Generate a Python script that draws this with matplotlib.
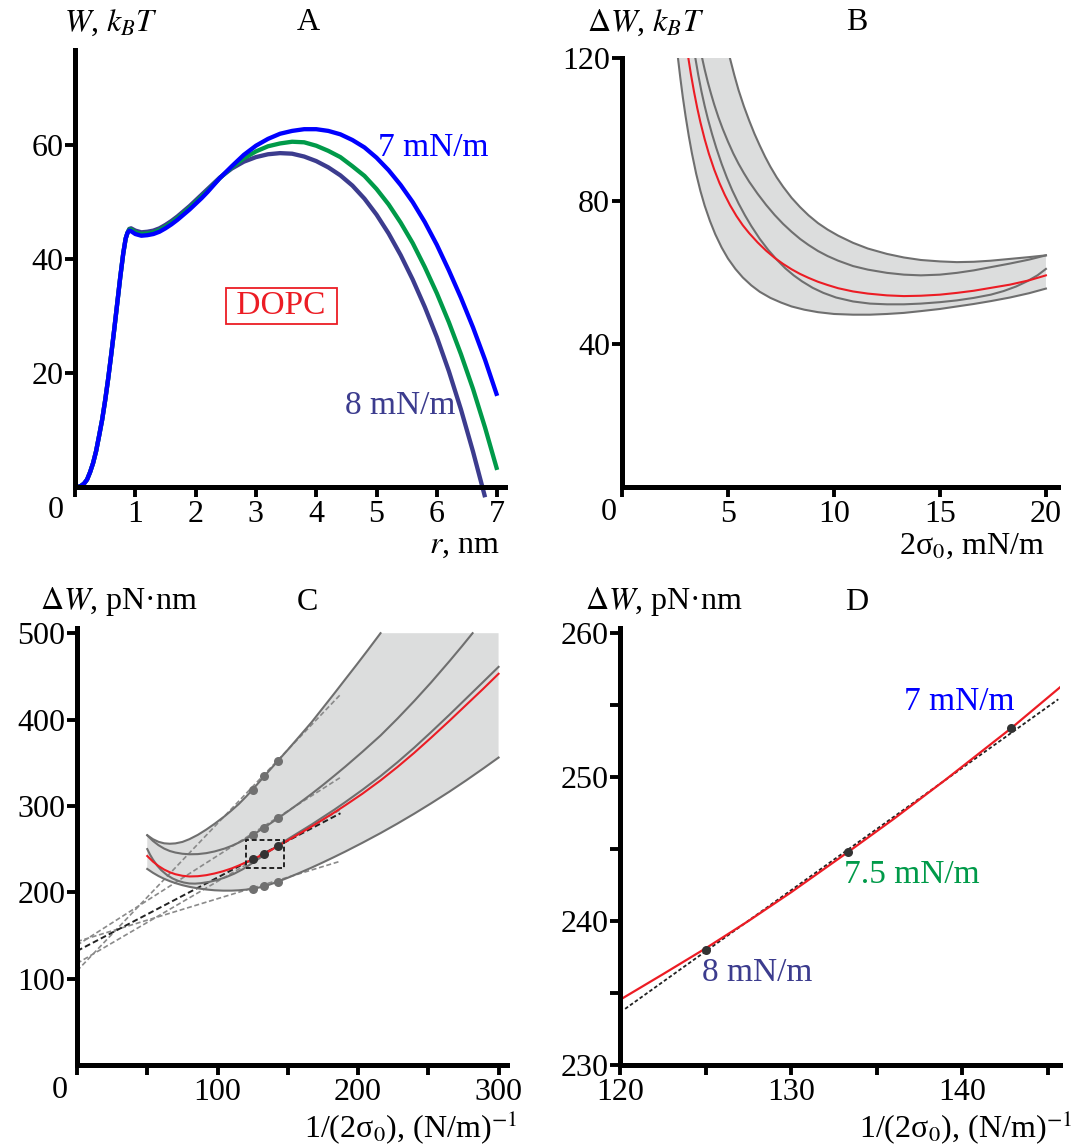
import numpy as np
import matplotlib.pyplot as plt

plt.rcParams['font.family'] = ['Liberation Serif', 'DejaVu Serif']
plt.rcParams['mathtext.fontset'] = 'stix'
plt.rcParams['font.size'] = 23

W, H = 1079, 1147

# ---------------- panel A : W(r) for three tensions ----------------
a_rise_r = [0.05, 0.1, 0.15, 0.2, 0.25, 0.3, 0.35, 0.4, 0.45, 0.5, 0.55, 0.6, 0.65, 0.7,
            0.75, 0.8, 0.84, 0.87]
a_rise_w = [0, 0.2, 0.6, 1.3, 2.6, 4.2, 6.3, 9.0, 11.8, 15.2, 19.0, 23.2, 27.6, 32.2,
            36.8, 41.0, 43.6, 44.6]

a_r7 = a_rise_r + [0.9, 0.93, 1.0, 1.1, 1.2, 1.3, 1.4, 1.5, 1.6, 1.7, 1.8, 1.9, 2.0, 2.1, 2.2,
                   2.3, 2.4, 2.6, 2.8, 3.0, 3.2, 3.4, 3.6, 3.8, 4.0, 4.2, 4.4, 4.6, 4.8, 5.0,
                   5.2, 5.4, 5.6, 5.8, 6.0, 6.2, 6.4, 6.6, 6.8, 7.0]
a_w7 = a_rise_w + [45.0, 44.9, 44.4, 44.1, 44.2, 44.4, 44.8, 45.4, 46.1, 46.9, 47.8, 48.7, 49.7,
                   50.7, 51.8, 53.0, 54.2, 56.3, 58.3, 59.9, 61.1, 62.0, 62.5, 62.8, 62.8, 62.5,
                   61.9, 60.9, 59.6, 57.8, 55.6, 53.0, 50.0, 46.5, 42.5, 38.0, 33.2, 28.0,
                   22.3, 16.0]

a_r75 = a_rise_r + [0.9, 0.93, 1.0, 1.1, 1.2, 1.3, 1.4, 1.5, 1.6, 1.7, 1.8, 1.9, 2.0, 2.1, 2.2,
                    2.3, 2.4, 2.6, 2.8, 3.0, 3.2, 3.4, 3.6, 3.8, 4.0, 4.2, 4.4, 4.6, 4.8, 5.0,
                    5.2, 5.4, 5.6, 5.8, 6.0, 6.2, 6.4, 6.6, 6.8, 7.0]
a_w75 = a_rise_w + [45.2, 45.2, 44.7, 44.4, 44.5, 44.7, 45.1, 45.7, 46.4, 47.2, 48.1, 49.0,
                    50.0, 51.0, 52.0, 53.1, 54.2, 56.1, 57.7, 58.9, 59.8, 60.3, 60.6, 60.5,
                    59.9, 59.0, 57.9, 56.3, 54.6, 52.3, 49.6, 46.4, 42.8, 38.6, 34.0, 28.9,
                    23.3, 17.2, 10.4, 3.0]

a_r8 = a_rise_r + [0.9, 0.93, 1.0, 1.1, 1.2, 1.3, 1.4, 1.5, 1.6, 1.7, 1.8, 1.9, 2.0, 2.1, 2.2,
                   2.3, 2.4, 2.6, 2.8, 3.0, 3.2, 3.4, 3.6, 3.8, 4.0, 4.2, 4.4, 4.6, 4.8, 5.0,
                   5.2, 5.4, 5.6, 5.8, 6.0, 6.2, 6.4, 6.6, 6.8]
a_w8 = a_rise_w + [45.3, 45.4, 45.0, 44.7, 44.8, 45.0, 45.4, 46.0, 46.7, 47.5, 48.4, 49.3,
                   50.3, 51.3, 52.3, 53.3, 54.3, 55.9, 57.1, 57.9, 58.4, 58.6, 58.5, 58.0,
                   57.2, 56.1, 54.7, 52.9, 50.6, 47.8, 44.5, 40.7, 36.4, 31.6, 26.3, 20.3,
                   13.6, 6.2, -1.8]

# ---------------- panel B : dW vs 2*sigma0 (kBT) ----------------
b_up_x = [5.09, 5.3, 5.5, 5.75, 6.0, 6.25, 6.5, 6.75, 7.0, 7.3, 7.6, 8.0, 8.4, 8.8, 9.25, 9.7,
          10.2, 10.9, 11.6, 12.5, 13.3, 14.1, 15.0, 15.8, 16.6, 17.4, 18.3, 19.2, 20.0]
b_up_y = [120, 115.2, 111.0, 106.5, 102.5, 98.8, 95.5, 92.4, 89.6, 86.6, 84.0, 80.9, 78.3,
          76.0, 73.8, 72.0, 70.3, 68.3, 66.7, 65.2, 64.2, 63.5, 63.1, 62.9, 63.0, 63.3, 63.8,
          64.3, 64.8]
b_g2_x = [3.78, 3.9, 4.05, 4.2, 4.35, 4.55, 4.75, 5.0, 5.25, 5.5, 5.75, 6.0, 6.4, 6.8, 7.2, 7.6,
          8.0, 8.4, 8.8, 9.25, 9.7, 10.2, 10.9, 11.6, 12.5, 13.3, 14.1, 15.0, 15.8, 16.6, 17.4,
          18.3, 19.2, 20.0]
b_g2_y = [120, 116.8, 113.2, 110.0, 107.0, 103.4, 100.2, 96.6, 93.3, 90.4, 87.8, 85.4, 82.0,
          78.9, 76.1, 73.6, 71.4, 69.4, 67.7, 66.0, 64.6, 63.3, 61.8, 60.8, 59.9, 59.4, 59.2,
          59.4, 59.9, 60.6, 61.5, 62.5, 63.6, 64.8]
b_red_x = [3.13, 3.25, 3.4, 3.55, 3.7, 3.9, 4.1, 4.35, 4.6, 4.85, 5.1, 5.4, 5.7, 6.0, 6.4, 6.8,
           7.2, 7.6, 8.0, 8.4, 8.8, 9.25, 9.7, 10.2, 10.9, 11.6, 12.5, 13.3, 14.1, 15.0, 15.8,
           16.6, 17.4, 18.3, 19.2, 20.0]
b_red_y = [120, 115.5, 110.5, 106.0, 102.0, 97.3, 93.2, 88.8, 85.0, 81.7, 78.8, 75.8, 73.2,
           71.0, 68.4, 66.1, 64.1, 62.4, 60.9, 59.6, 58.5, 57.4, 56.5, 55.6, 54.7, 54.1, 53.6,
           53.4, 53.5, 53.8, 54.3, 54.9, 55.7, 56.6, 57.8, 59.2]
b_g3_x = [3.46, 3.6, 3.75, 3.9, 4.05, 4.25, 4.45, 4.7, 4.95, 5.2, 5.5, 5.8, 6.1, 6.5, 6.9, 7.3,
          7.7, 8.1, 8.5, 9.0, 9.5, 10.1, 10.9, 11.7, 12.5, 13.3, 14.1, 15.0, 15.8, 16.6, 17.4,
          18.0, 18.6, 19.1, 19.6, 20.0]
b_g3_y = [120, 115.2, 110.6, 106.6, 103.0, 98.7, 94.8, 90.4, 86.5, 83.0, 79.3, 76.0, 73.0,
          69.4, 66.3, 63.6, 61.2, 59.2, 57.5, 55.7, 54.3, 53.0, 51.9, 51.3, 51.1, 51.1, 51.3,
          51.7, 52.2, 52.9, 53.8, 54.8, 56.1, 57.5, 59.2, 61.0]
b_lo_x = [2.64, 2.75, 2.87, 3.0, 3.15, 3.3, 3.5, 3.7, 3.9, 4.15, 4.4, 4.7, 5.0, 5.35, 5.7, 6.1,
          6.5, 7.0, 7.5, 8.0, 8.6, 9.25, 10.0, 10.9, 11.7, 12.5, 13.3, 14.1, 15.0, 15.8, 16.6,
          17.4, 18.3, 19.2, 20.0]
b_lo_y = [120, 114.5, 109.0, 103.7, 98.2, 93.3, 87.6, 82.8, 78.7, 74.4, 70.7, 67.0, 63.9,
          61.0, 58.6, 56.4, 54.6, 52.9, 51.6, 50.5, 49.6, 48.9, 48.4, 48.2, 48.2, 48.4, 48.7,
          49.2, 49.8, 50.5, 51.2, 52.0, 53.0, 54.2, 55.5]

# ---------------- panel C : dW vs 1/(2 sigma0) (pN nm) ----------------
c_top_x = [50, 54, 58, 62, 66, 70, 75, 80, 86, 92, 98, 105, 110, 115, 120, 125, 133.33,
           142.86, 150, 158, 167, 175, 183, 191, 199, 207, 216]
c_top_y = [266, 261.5, 258.4, 256.7, 256.2, 256.6, 258.3, 261.5, 266.5, 272.6, 279.4, 288.0,
           294.8, 302.0, 310.2, 319.0, 334.5, 352, 365, 380, 397, 413.5, 430, 446.8, 463.5,
           480.5, 500]
c_g2_x = [50, 54, 58, 62, 66, 70, 75, 80, 86, 92, 98, 105, 110, 115, 120, 125, 133.33, 142.86,
          150, 158, 167, 175, 183, 191, 203, 216, 228, 240, 252, 265, 274, 281.5]
c_g2_y = [266, 259.5, 254.5, 250.6, 247.8, 246.0, 244.6, 244.0, 244.2, 245.3, 247.3, 250.6,
          253.7, 257.4, 261.6, 266.3, 275.0, 285.5, 293.6, 303.0, 314.0, 324.2, 334.8, 345.6,
          362.5, 381.5, 401, 421.5, 443, 467.5, 485, 500]
c_red_x = [50, 54, 58, 62, 66, 70, 75, 80, 86, 92, 98, 104, 110, 115, 120, 125, 129, 133.33,
           138, 142.86, 150, 158, 167, 175, 183, 191, 203, 216, 228, 240, 252, 265, 277, 289, 300]
c_red_y = [242, 235.6, 230.4, 226.3, 223.2, 220.9, 219.1, 218.3, 218.6, 219.8, 221.8, 224.4,
           227.6, 230.9, 234.5, 238.0, 241.2, 244.8, 248.8, 253.4, 260.0, 267.6, 276.2, 284.2,
           292.3, 300.8, 314.0, 329.5, 345.0, 361.5, 379.0, 398.5, 417.0, 435.5, 453]
c_g3_x = [50, 52, 54, 57, 60, 64, 68, 72, 76, 80, 84, 88, 94, 100, 106, 112, 118, 125, 133.33,
          142.86, 150, 158, 167, 175, 183, 191, 203, 216, 228, 240, 252, 265, 277, 289, 300]
c_g3_y = [250, 243.5, 238, 231, 225.5, 220, 216, 213.2, 211.3, 210.2, 210.0, 210.5, 212.0,
          214.3, 217.5, 221.6, 226.7, 234.0, 243.4, 254.2, 261.5, 269.5, 278.5, 287, 295.5,
          304.5, 318.5, 334.5, 350.5, 367.5, 385.5, 405.5, 424.5, 443.5, 461]
c_lo_x = [50, 54, 58, 62, 66, 70, 75, 80, 86, 92, 98, 104, 110, 115, 120, 125, 133.33, 142.86,
          150, 158, 167, 175, 183, 191, 203, 216, 228, 240, 252, 265, 277, 289, 300]
c_lo_y = [227, 222.6, 218.8, 215.6, 212.9, 210.6, 208.2, 206.3, 204.5, 203.2, 202.3, 201.9,
          201.9, 202.3, 203.0, 204.0, 206.8, 212.2, 216.8, 222.2, 228.6, 234.6, 240.8, 247.2,
          257.2, 268.5, 279.5, 291.0, 303.0, 316.5, 329.6, 343.2, 356]

dot_x = [125, 133.33, 142.86]
dot_top = [319, 334.5, 352]
dot_g2 = [266.3, 275, 285.5]
dot_lo = [204, 206.8, 212.2]
dot_red = [238.0, 244.8, 253.4]

# tangent (linear fit) lines drawn from x = 0 to 187.5
tan_x = [0, 187.5]
tan_gray = [[109, 429], [117.6, 295.7], [138.7, 333], [142.9, 236]]
tan_red = [132.0, 291.5]

# ---------------- panel D : zoom ----------------
d_red_x = [120.1, 122.5, 125, 127.5, 130, 133.33, 136, 139, 142.86, 145.77]
d_red_y = [234.6, 236.3, 238.1, 240.0, 242.0, 244.8, 247.1, 249.8, 253.4, 256.3]
d_fit_x = [120.3, 145.6]
d_fit_y = [233.9, 255.4]

BLUE = '#0000ff'
GREEN = '#009a49'
PURPLE = '#3c3c8e'
RED = '#ec1c24'
GRAYL = '#6f6f6f'
FILL = '#dcdddd'

fig = plt.figure(figsize=(W / 100, H / 100), dpi=100)


def px_axes(x0, y0, x1, y1):
    # pixel box: left, top, right, bottom
    return fig.add_axes([x0 / W, 1 - y1 / H, (x1 - x0) / W, (y1 - y0) / H])


def style(ax):
    for s in ['top', 'right']:
        ax.spines[s].set_visible(False)
    for s in ['left', 'bottom']:
        ax.spines[s].set_linewidth(3.6)
        ax.spines[s].set_capstyle('projecting')
    ax.tick_params(direction='out', length=7, width=2.8, labelsize=23, pad=2.5)
    ax.tick_params(axis='y', pad=1.5)


def ftext(x, y, s, **kw):
    fig.text(x / W, 1 - y / H, s, **kw)


def corner_zero(ax, dx, dy):
    ax.annotate('0', xy=(0, 0), xycoords='axes fraction', xytext=(dx, -dy),
                textcoords='offset pixels', ha='center', va='center', fontsize=23,
                annotation_clip=False)


# ---- A ----
axA = px_axes(75, 50, 505, 487)
axA.plot(a_r8, a_w8, color=PURPLE, lw=3.1, clip_on=False, solid_capstyle='butt')
axA.plot(a_r75, a_w75, color=GREEN, lw=3.1, solid_capstyle='butt')
axA.plot(a_r7, a_w7, color=BLUE, lw=3.1, solid_capstyle='butt')
axA.set_xlim(0, 7.13)
axA.set_ylim(0, 76.7)
axA.set_xticks(range(8))
axA.set_xticklabels([''] + [str(i) for i in range(1, 8)])
axA.set_yticks([20, 40, 60])
style(axA)
corner_zero(axA, -19, 24)
axA.text(5.02, 59.5, '7 mN/m', color=BLUE, fontsize=24, va='center', ha='left')
axA.text(4.48, 14.2, '8 mN/m', color=PURPLE, fontsize=24, va='center', ha='left')
axA.text(3.42, 31.8, ' DOPC ', color=RED, fontsize=24, va='center', ha='center',
         bbox=dict(boxstyle='square,pad=0.08', fc='white', ec=RED, lw=1.3))
ftext(64, 23, r'$W$, $k_BT$', ha='left', va='center', fontsize=23)
ftext(308, 23, 'A', ha='center', va='center', fontsize=23)
ftext(500, 546, r'$r$, nm', ha='right', va='center', fontsize=23)

# ---- B ----
axB = px_axes(622, 58, 1058, 487)
axB.fill(b_lo_x + b_up_x[::-1], b_lo_y + b_up_y[::-1], color=FILL, lw=0)
for xs, ys in [(b_up_x, b_up_y), (b_g2_x, b_g2_y), (b_g3_x, b_g3_y), (b_lo_x, b_lo_y)]:
    axB.plot(xs, ys, color=GRAYL, lw=1.5)
axB.plot(b_red_x, b_red_y, color=RED, lw=1.5)
axB.set_xlim(0, 20.57)
axB.set_ylim(0, 120)
axB.set_xticks([0, 5, 10, 15, 20])
axB.set_xticklabels(['', '5', '10', '15', '20'])
axB.set_yticks([40, 80, 120])
style(axB)
corner_zero(axB, -13, 26)
ftext(587, 23, r'$\Delta W$, $k_BT$', ha='left', va='center', fontsize=23)
ftext(857, 23, 'B', ha='center', va='center', fontsize=23)
ftext(1045, 546, '2σ$_0$, mN/m', ha='right', va='center', fontsize=23)

# ---- C ----
axC = px_axes(77, 628, 507, 1065)
axC.fill(c_lo_x + [300] + c_top_x[::-1], c_lo_y + [500] + c_top_y[::-1], color=FILL, lw=0)
for ys in tan_gray:
    axC.plot(tan_x, ys, color='#8a8a8a', lw=1.2, ls=(0, (3, 1.6)))
axC.plot(tan_x, tan_red, color='#222222', lw=1.4, ls=(0, (3, 1.6)))
for xs, ys in [(c_top_x, c_top_y), (c_g2_x, c_g2_y), (c_g3_x, c_g3_y), (c_lo_x, c_lo_y)]:
    axC.plot(xs, ys, color=GRAYL, lw=1.5)
axC.plot(c_red_x, c_red_y, color=RED, lw=1.5)
for ys in [dot_top, dot_g2, dot_lo]:
    axC.plot(dot_x, ys, 'o', color='#707070', ms=6.5, mec='none')
axC.plot(dot_x, dot_red, 'o', color='#333333', ms=6.5, mec='none')
axC.plot([120, 147.5, 147.5, 120, 120], [228, 228, 261, 261, 228], color='#222222', lw=1.4,
         ls=(0, (2.5, 1.5)))
axC.set_xlim(0, 306)
axC.set_ylim(0, 506)
axC.set_xticks([0, 50, 100, 150, 200, 250, 300])
axC.set_xticklabels(['', '', '100', '', '200', '', '300'])
axC.set_yticks([100, 200, 300, 400, 500])
style(axC)
corner_zero(axC, -17, 25)
ftext(40, 602, r'$\Delta W$, pN·nm', ha='left', va='center', fontsize=23)
ftext(307, 602, 'C', ha='center', va='center', fontsize=23)
ftext(517, 1127, '1/(2σ$_0$), (N/m)$^{-1}$', ha='right', va='center', fontsize=23)

# ---- D ----
axD = px_axes(620, 628, 1060, 1065)
axD.plot(d_fit_x, d_fit_y, color='#222222', lw=1.3, ls=(0, (2, 1.3)))
axD.plot(d_red_x, d_red_y, color=RED, lw=1.6)
axD.plot(dot_x, dot_red, 'o', color='#333333', ms=6.5, mec='none')
axD.set_xlim(120, 145.7)
axD.set_ylim(230, 260.35)
axD.set_xticks([120, 125, 130, 135, 140, 145])
axD.set_xticklabels(['120', '', '130', '', '140', ''])
axD.set_yticks([230, 235, 240, 245, 250, 255, 260])
axD.set_yticklabels(['230', '', '240', '', '250', '', '260'])
style(axD)
axD.text(136.6, 255.2, '7 mN/m', color=BLUE, fontsize=24, va='center', ha='left')
axD.text(133.1, 243.2, '7.5 mN/m', color=GREEN, fontsize=24, va='center', ha='left')
axD.text(124.8, 236.4, '8 mN/m', color=PURPLE, fontsize=24, va='center', ha='left')
ftext(585, 602, r'$\Delta W$, pN·nm', ha='left', va='center', fontsize=23)
ftext(857, 602, 'D', ha='center', va='center', fontsize=23)
ftext(1072, 1127, '1/(2σ$_0$), (N/m)$^{-1}$', ha='right', va='center', fontsize=23)

fig.savefig('out.png', dpi=100)
